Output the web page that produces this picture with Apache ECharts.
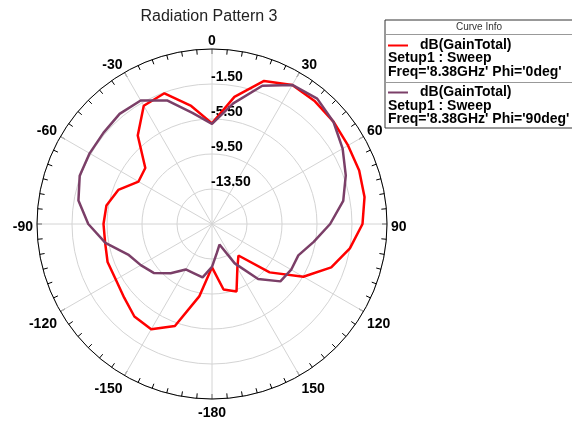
<!DOCTYPE html>
<html>
<head>
<meta charset="utf-8">
<script src="https://cdn.jsdelivr.net/npm/echarts@6/dist/echarts.min.js"></script>
<style>
html,body{margin:0;padding:0;background:#fff;}
#chart{width:572px;height:421px;}
</style>
</head>
<body>
<div id="chart"></div>
<script>
// Angles (deg) and gain (dB)
var angles = [-180,-170,-160,-150,-140,-130,-120,-110,-100,-90,-80,-70,-60,-50,-40,-30,-20,-10,0,10,20,30,40,50,60,70,80,90,100,110,120,130,140,150,160,170,180];
var gainPhi0 = [-12.55,-9.1,-5.1,-3.6,-3.7,-4.4,-4.8,-4.8,-5.1,-5.1,-5.25,-6.1,-7.8,-7.55,-4.3,-1.9,-1.6,-3.8,-6.0,-2.75,-0.1,0.85,0.8,0.65,0.45,0.4,0.2,-0.3,-1.5,-3.0,-5.45,-8.9,-12.8,-11.7,-9.3,-9.9,-12.55];
var gainPhi90 = [-12.6,-11.3,-11.5,-11.5,-10.15,-8.8,-8.1,-7.3,-5.13,-3.36,-2.0,-1.41,-1.35,-1.3,-1.07,-1.2,-2.47,-4.6,-6.05,-3.5,-0.68,0.85,1.2,0.63,-0.26,-1.23,-2.27,-4.0,-5.7,-7.0,-7.05,-7.3,-9.3,-12.3,-15.0,-14.2,-12.6];
var seriesNames = ["dB(GainTotal) Setup1 : Sweep Freq='8.38GHz' Phi='0deg'", "dB(GainTotal) Setup1 : Sweep Freq='8.38GHz' Phi='90deg'"];
var legendTitle = 'dB(GainTotal)';
var legendLines = ["Setup1 : Sweep\nFreq='8.38GHz' Phi='0deg'", "Setup1 : Sweep\nFreq='8.38GHz' Phi='90deg'"];
var radialMin = -17.5, radialMax = 2.5, radialStep = 4;

function toPolar(vals){
  return vals.map(function(v, i){
    var a = angles[i] < 0 ? angles[i] + 360 : angles[i];
    return [v, a];
  });
}
function angleLabel(v){ var d = v > 180 ? v - 360 : v; if (d === 180) d = -180; if (v === 360) d = 0; return String(d); }
var FONT = 'Arial, "Liberation Sans", sans-serif';
var chart = echarts.init(document.getElementById('chart'));
chart.setOption({
  animation: false,
  backgroundColor: '#fff',
  polar: [
    { center: [212, 224], radius: 175 },
    { center: [212, 227.5], radius: 175 }
  ],
  angleAxis: [
    { polarIndex: 0, type: 'value', min: 0, max: 360, interval: 30, startAngle: 90, clockwise: true,
      axisLine: { show: true, lineStyle: { color: '#000', width: 1 } },
      axisTick: { show: true, inside: true, length: 5, lineStyle: { color: '#000' } },
      minorTick: { show: true, splitNumber: 6, length: 5, lineStyle: { color: '#000' } },
      splitLine: { show: true, lineStyle: { color: '#d4d4d4', width: 1 } },
      axisLabel: { show: false } },
    { polarIndex: 1, type: 'value', min: 0, max: 360, interval: 30, startAngle: 90, clockwise: true,
      axisLine: { show: false }, axisTick: { show: false }, splitLine: { show: false },
      axisLabel: { margin: 4, fontSize: 14, fontWeight: 'bold', color: '#000', fontFamily: FONT, formatter: angleLabel } }
  ],
  radiusAxis: [
    { polarIndex: 0, type: 'value', min: radialMin, max: radialMax, interval: radialStep,
      axisLine: { show: false }, axisTick: { show: false },
      splitLine: { show: true, lineStyle: { color: '#d4d4d4', width: 1 } },
      axisLabel: {
        margin: 1, fontSize: 14, fontWeight: 'bold', color: '#000', fontFamily: FONT,
        align: 'left', verticalAlign: 'bottom',
        formatter: function(v){ if (Math.abs(v - radialMin) < 1e-6 || Math.abs(v - radialMax) < 1e-6) return ''; return v.toFixed(2); }
      } },
    { polarIndex: 1, type: 'value', min: radialMin, max: radialMax, interval: radialStep,
      axisLine: { show: false }, axisTick: { show: false }, splitLine: { show: false }, axisLabel: { show: false } }
  ],
  legend: [
    { data: [seriesNames[0]], left: 388, top: 37.5, padding: 0, icon: 'rect', itemWidth: 20, itemHeight: 2, selectedMode: false,
      formatter: function(){ return legendTitle; },
      textStyle: { fontSize: 14, fontWeight: 'bold', color: '#000', fontFamily: FONT, lineHeight: 16, padding: [0,0,0,7] } },
    { data: [seriesNames[1]], left: 388, top: 84.5, padding: 0, icon: 'rect', itemWidth: 20, itemHeight: 2, selectedMode: false,
      formatter: function(){ return legendTitle; },
      textStyle: { fontSize: 14, fontWeight: 'bold', color: '#000', fontFamily: FONT, lineHeight: 16, padding: [0,0,0,7] } }
  ],
  graphic: [
    { type: 'text', x: 209, y: 16.5, z: 10, style: { text: 'Radiation Pattern 3', font: '16px ' + FONT, fill: '#222', textAlign: 'center', textVerticalAlign: 'middle' } },
    { type: 'rect', z: 1, shape: { x: 385, y: 20, width: 190, height: 108 }, style: { fill: '#fff', stroke: '#333', lineWidth: 1 } },
    { type: 'line', z: 2, shape: { x1: 385, y1: 34.5, x2: 575, y2: 34.5 }, style: { stroke: '#999', lineWidth: 1 } },
    { type: 'line', z: 2, shape: { x1: 385, y1: 82.5, x2: 575, y2: 82.5 }, style: { stroke: '#999', lineWidth: 1 } },
    { type: 'text', z: 3, x: 479, y: 27.5, style: { text: 'Curve Info', font: '10px ' + FONT, fill: '#333', textAlign: 'center', textVerticalAlign: 'middle' } },
    { type: 'text', z: 3, x: 388, y: 51.6, style: { text: legendLines[0], font: 'bold 14px ' + FONT, fill: '#000', lineHeight: 13.4, textVerticalAlign: 'top' } },
    { type: 'text', z: 3, x: 388, y: 99, style: { text: legendLines[1], font: 'bold 14px ' + FONT, fill: '#000', lineHeight: 13.4, textVerticalAlign: 'top' } }
  ],
  series: [
    { name: seriesNames[0], type: 'line', coordinateSystem: 'polar', polarIndex: 0, data: toPolar(gainPhi0), showSymbol: false, symbol: 'none', z: 5,
      lineStyle: { color: '#ff0000', width: 2.5 }, itemStyle: { color: '#ff0000' } },
    { name: seriesNames[1], type: 'line', coordinateSystem: 'polar', polarIndex: 0, data: toPolar(gainPhi90), showSymbol: false, symbol: 'none', z: 5,
      lineStyle: { color: '#7b3f68', width: 2.5 }, itemStyle: { color: '#7b3f68' } }
  ]
});
</script>
</body>
</html>
